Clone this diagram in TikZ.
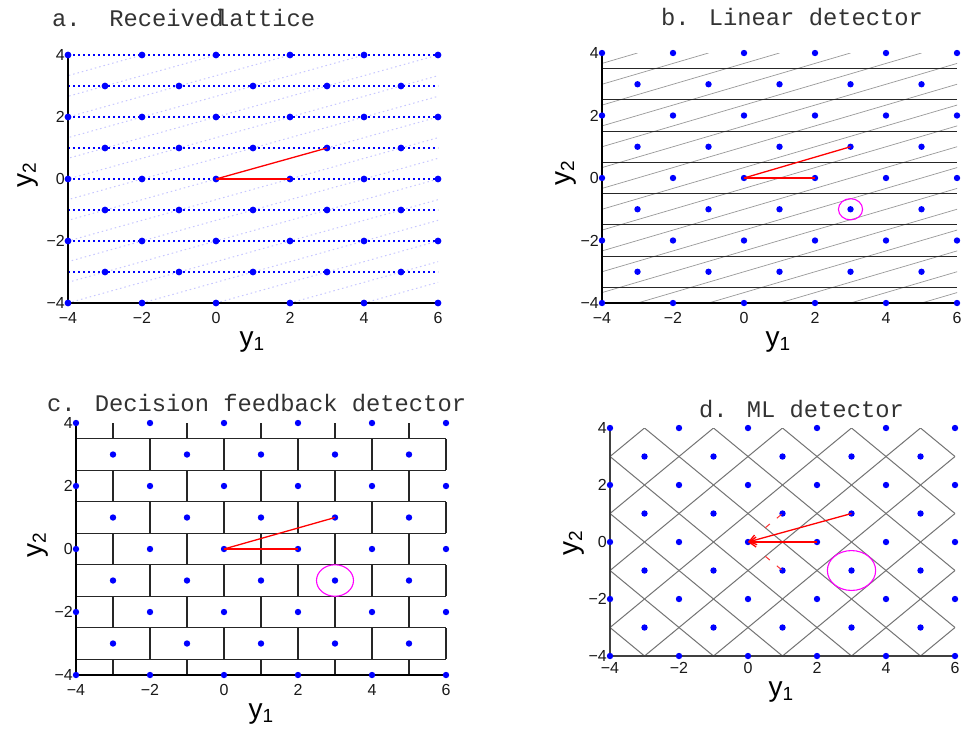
\documentclass[tikz,border=0pt]{standalone}
\usepackage{fontspec}
\setmainfont{Liberation Sans}
\newfontfamily\titlemono{Liberation Mono}
\usetikzlibrary{arrows.meta}
\definecolor{mlmag}{RGB}{255,0,255}
\tikzset{
  latdot/.style={fill=blue,draw=none},
  ticklab/.style={font=\fontsize{16}{16}\selectfont,inner sep=0pt,text=black!90},
  titletext/.style={font=\titlemono\fontsize{23.8}{24}\selectfont,inner sep=0pt,anchor=base west,text=black!80},
  axislab/.style={inner sep=0pt,text=black},
  axline/.style={black,line width=1.5pt},
  daxline/.style={black!75,line width=1.8pt},
  redvec/.style={red,line width=1.3pt},
  reddash/.style={red!80,line width=1pt,dash pattern=on 6pt off 9pt},
  ringmark/.style={mlmag,line width=1.1pt},
  hdot/.style={blue,line width=1.4pt,dash pattern=on 2pt off 3pt},
  slantfaint/.style={blue!22,line width=1pt,dash pattern=on 1.5pt off 3pt},
  slantgray/.style={black!40,line width=0.7pt},
  boundblack/.style={black!85,line width=1.2pt},
  diamondline/.style={black!55,line width=1pt},
}
\newcommand\ylab[1]{{\fontsize{28}{28}\selectfont y}\raisebox{-0.35em}{\fontsize{19}{19}\selectfont #1}}
\newcommand\panelticks[2]{%
  \foreach \v/\t in {-4/−4,-2/−2,0/0,2/2,4/4,6/6}
    \node[ticklab,yshift=#2] (#1x\v) at (\v,-4) {\t};
  \foreach \v/\t in {-4/−4,-2/−2,0/0,2/2,4/4}
    \node[ticklab,anchor=east,xshift=-3pt] (#1y\v) at (-4,\v) {\t};
}
\newcommand\latticedots[1]{%
  \foreach \yy in {-4,...,4}{%
    \foreach \xx in {-4,...,6}{%
      \pgfmathtruncatemacro\pty{mod(\xx+\yy+20,2)}%
      \ifnum\pty=0 \fill[latdot] (\xx,\yy) circle[radius=#1];\fi
    }%
  }%
}
\begin{document}
\begin{tikzpicture}[x=1pt,y=-1pt]
\useasboundingbox (0,0) rectangle (965,732);
\fill[white] (0,0) rectangle (965,732);

% ---------------- panel a ----------------
\node[titletext] (atitle1) at (52,26) {a.\ \ Received};
\node[titletext] (atitle2) at (215,26) {lattice};
\begin{scope}[shift={(216,179)},x=37pt,y=31pt]
  \begin{scope}
    \clip (-4,-4) rectangle (6,4);
    \foreach \c in {-16,-14,...,18} \draw[slantfaint] ({\c-12},-4) -- ({\c+12},4);
  \end{scope}
  \foreach \yy in {-3,...,4} \draw[hdot] (-4,\yy) -- (6,\yy);
  \draw[axline] (-4,4) -- (-4,-4) -- (6,-4);
  \latticedots{3.4pt}
  \coordinate (ao) at (0,0);
  \coordinate (ap20) at (2,0);
  \coordinate (ap31) at (3,1);
  \draw[redvec] (ao) -- (ap31);
  \draw[redvec] (ao) -- (ap20);
  \panelticks{a}{-15pt}
\end{scope}
\node[axislab] (axlab) at (252,342) {\ylab{1}};
\node[axislab,rotate=90] (aylab) at (28,175) {\ylab{2}};

% ---------------- panel b ----------------
\node[titletext] (btitle) at (661,25) {b. Linear detector};
\begin{scope}[shift={(744,178)},x=35.5pt,y=31.25pt]
  \begin{scope}
    \clip (-4,-4) rectangle (6,4);
    \foreach \c in {-15,-13,...,17} \draw[slantgray] ({\c-12},-4) -- ({\c+12},4);
  \end{scope}
  \foreach \yy in {-3.5,-2.5,...,3.5} \draw[boundblack] (-4,\yy) -- (6,\yy);
  \draw[axline] (-4,4) -- (-4,-4) -- (6,-4);
  \latticedots{3.2pt}
  \coordinate (bo) at (0,0);
  \coordinate (bp20) at (2,0);
  \coordinate (bp31) at (3,1);
  \coordinate (bq) at (3,-1);
  \draw[redvec] (bo) -- (bp31);
  \draw[redvec] (bo) -- (bp20);
  \draw[ringmark] (bq) circle[radius=0.34];
  \panelticks{b}{-15pt}
\end{scope}
\node[axislab] (bxlab) at (778,342) {\ylab{1}};
\node[axislab,rotate=90] (bylab) at (566,173) {\ylab{2}};

% ---------------- panel c ----------------
\node[titletext] (ctitle) at (47,411) {c. Decision feedback detector};
\begin{scope}[shift={(224,549)},x=37pt,y=31.5pt]
  \foreach \yy in {-3.5,-2.5,...,3.5} \draw[boundblack] (-4,\yy) -- (6,\yy);
  \foreach \yy in {-4,...,4}{%
    \pgfmathsetmacro\lo{max(\yy-0.5,-4)}%
    \pgfmathsetmacro\hi{min(\yy+0.5,4)}%
    \pgfmathtruncatemacro\pty{mod(\yy+20,2)}%
    \ifnum\pty=1
      \foreach \xx in {-4,-2,...,6} \draw[boundblack] (\xx,\lo) -- (\xx,\hi);
    \else
      \foreach \xx in {-3,-1,...,5} \draw[boundblack] (\xx,\lo) -- (\xx,\hi);
    \fi
  }
  \draw[axline] (-4,4) -- (-4,-4) -- (6,-4);
  \latticedots{3.2pt}
  \coordinate (co) at (0,0);
  \coordinate (cp20) at (2,0);
  \coordinate (cp31) at (3,1);
  \coordinate (cq) at (3,-1);
  \draw[redvec] (co) -- (cp31);
  \draw[redvec] (co) -- (cp20);
  \draw[ringmark] (cq) circle[radius=0.5];
  \panelticks{c}{-15pt}
\end{scope}
\node[axislab] (cxlab) at (261,714) {\ylab{1}};
\node[axislab,rotate=90] (cylab) at (38,545) {\ylab{2}};

% ---------------- panel d ----------------
\node[titletext] (dtitle) at (699,417) {d. ML detector};
\begin{scope}[shift={(748,542)},x=34.5pt,y=28.5pt]
  \begin{scope}
    \clip (-4,-4) rectangle (6,4);
    \foreach \c in {-7,-5,...,9}{%
      \draw[diamondline] (-4,{\c+4}) -- (6,{\c-6});
      \draw[diamondline] (-4,{-4-\c}) -- (6,{6-\c});
    }
  \end{scope}
  \draw[daxline] (-4,4) -- (-4,-4) -- (6,-4);
  \latticedots{3.2pt}
  \coordinate (do) at (0,0);
  \coordinate (dp20) at (2,0);
  \coordinate (dp31) at (3,1);
  \coordinate (dq) at (3,-1);
  \coordinate (du1) at (0.5,0.5);
  \coordinate (du2) at (1,1);
  \coordinate (dl1) at (0.5,-0.5);
  \coordinate (dl2) at (1,-1);
  \draw[redvec,-{Straight Barb[length=7pt,width=10pt]}] (dp31) -- (do);
  \draw[redvec,-{Straight Barb[length=7pt,width=10pt]}] (dp20) -- (do);
  \draw[reddash] (du1) -- (du2);
  \draw[reddash] (dl1) -- (dl2);
  \draw[ringmark] (dq) circle[radius=0.7];
  \panelticks{d}{-12pt}
\end{scope}
\node[axislab] (dxlab) at (781,692) {\ylab{1}};
\node[axislab,rotate=90] (dylab) at (574,543) {\ylab{2}};
\end{tikzpicture}
\end{document}
